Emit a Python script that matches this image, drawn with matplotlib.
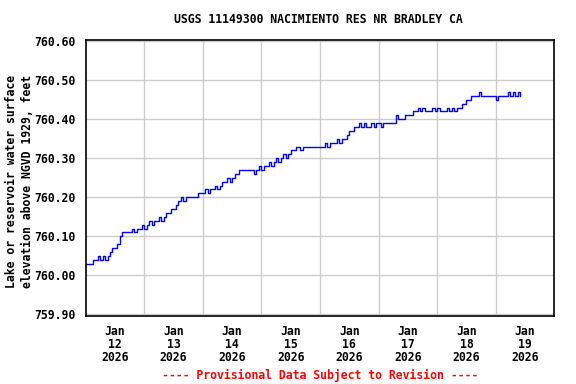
import matplotlib
matplotlib.use("Agg")
import matplotlib.pyplot as plt
from datetime import datetime, timedelta

# Hourly gage height readings starting Jan 12 2026 00:00 (hundredths of a foot above 760.00)
start = datetime(2026, 1, 12, 0, 0)
hundredths = [
    3, 3, 3, 4, 4, 5, 4, 5, 4, 5,
    6, 7, 7, 8, 10, 11, 11, 11, 11, 12,
    11, 12, 12, 13, 12, 13, 14, 13, 14, 14,
    15, 14, 15, 16, 16, 17, 17, 18, 19, 20,
    19, 20, 20, 20, 20, 20, 21, 21, 21, 22,
    21, 22, 22, 23, 22, 23, 24, 24, 25, 24,
    25, 26, 26, 27, 27, 27, 27, 27, 27, 26,
    27, 28, 27, 28, 28, 29, 28, 29, 30, 29,
    30, 31, 30, 31, 32, 32, 33, 33, 32, 33,
    33, 33, 33, 33, 33, 33, 33, 33, 34, 33,
    34, 34, 34, 35, 34, 35, 35, 36, 37, 37,
    38, 38, 39, 38, 39, 38, 38, 39, 38, 39,
    39, 38, 39, 39, 39, 39, 39, 41, 40, 40,
    40, 41, 41, 41, 42, 42, 43, 42, 43, 42,
    42, 42, 43, 42, 43, 42, 42, 42, 43, 42,
    43, 42, 43, 43, 44, 44, 45, 45, 46, 46,
    46, 47, 46, 46, 46, 46, 46, 46, 45, 46,
    46, 46, 46, 47, 46, 47, 46, 47, 46,
]
base_elev = 760.00
times = [start + timedelta(hours=h) for h in range(len(hundredths))]
values = [base_elev + v / 100.0 for v in hundredths]

title = "USGS 11149300 NACIMIENTO RES NR BRADLEY CA"
ylabel = "Lake or reservoir water surface\nelevation above NGVD 1929, feet"
footnote = "---- Provisional Data Subject to Revision ----"
yticks = [759.90, 760.00, 760.10, 760.20, 760.30, 760.40, 760.50, 760.60]
day_labels = ["Jan\n12\n2026", "Jan\n13\n2026", "Jan\n14\n2026", "Jan\n15\n2026",
              "Jan\n16\n2026", "Jan\n17\n2026", "Jan\n18\n2026", "Jan\n19\n2026"]

font = dict(family="DejaVu Sans Mono", weight="bold", size=8.3)

fig = plt.figure(figsize=(5.76, 3.84), dpi=100)
ax = fig.add_axes([0.1486, 0.1779, 0.9623 - 0.1486, 0.8966 - 0.1779])

ax.plot(times, values, color="#0000ff", linewidth=1.0, drawstyle="steps-post")

ax.set_xlim(start, start + timedelta(days=8))
ax.set_ylim(759.8965, 760.604)

# gridlines at midnight, labels at noon
midnights = [start + timedelta(days=d) for d in range(1, 8)]
noons = [start + timedelta(days=d, hours=12) for d in range(8)]
ax.set_xticks(midnights)
ax.set_xticklabels([""] * len(midnights))
ax.set_xticks(noons, minor=True)
ax.set_xticklabels(day_labels, minor=True, fontdict=font, linespacing=1.0)
ax.tick_params(axis="x", which="both", length=0, pad=7)

ax.set_yticks(yticks)
ax.set_yticklabels([f"{v:.2f}" for v in yticks], fontdict=font)
ax.tick_params(axis="y", length=0, pad=7)

ax.grid(True, which="major", color="#cccccc", linewidth=1.0)
ax.set_axisbelow(True)
for s in ax.spines.values():
    s.set_linewidth(1.2)
    s.set_color("black")

fig.text(0.553, 0.950, title, ha="center", va="center", **font)
fig.text(0.034, 0.528, ylabel, ha="center", va="center", rotation=90,
         linespacing=1.25, **font)
fig.text(0.555, 0.023, footnote, ha="center", va="center", color="#ff0000", **font)

fig.savefig("out.png", dpi=100)
